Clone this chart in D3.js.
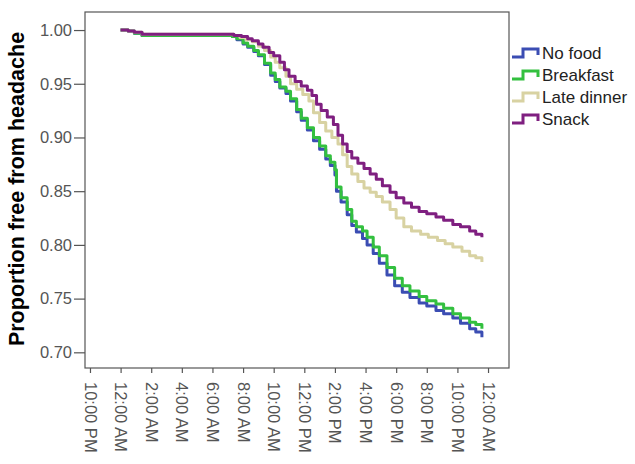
<!DOCTYPE html>
<meta charset="utf-8">
<script src="https://d3js.org/d3.v7.min.js"></script>
<style>
  body { margin: 0; background: #fff; }
  text { font-family: "Liberation Sans", Arial, sans-serif; }
</style>
<div id="my_dataviz"></div>
<script>

// survival curves: [hours after 12:00 AM, proportion free from headache]
var noFood = [[0,1.000],[0.5,0.999],[0.9,0.997],[1.4,0.995],[7.3,0.994],[7.6,0.991],[8.0,0.987],[8.3,0.984],[8.7,0.980],[9.0,0.976],[9.4,0.968],[9.8,0.958],[10.1,0.952],[10.4,0.946],[10.8,0.941],[11.1,0.934],[11.5,0.924],[11.8,0.916],[12.2,0.907],[12.6,0.897],[13.0,0.889],[13.4,0.880],[13.7,0.874],[14.0,0.865],[14.1,0.850],[14.4,0.840],[14.8,0.828],[15.1,0.818],[15.4,0.812],[15.8,0.806],[16.1,0.800],[16.5,0.792],[16.9,0.783],[17.4,0.772],[17.9,0.762],[18.4,0.756],[18.9,0.751],[19.5,0.746],[20.0,0.743],[20.6,0.739],[21.1,0.736],[21.7,0.732],[22.2,0.727],[22.8,0.722],[23.2,0.719],[23.6,0.714]];

var breakfast = [[0,1.000],[0.5,0.999],[0.9,0.997],[1.4,0.995],[7.3,0.994],[7.6,0.992],[8.0,0.988],[8.3,0.985],[8.7,0.981],[9.0,0.977],[9.4,0.969],[9.8,0.960],[10.1,0.954],[10.4,0.947],[10.8,0.943],[11.1,0.936],[11.5,0.926],[11.8,0.918],[12.2,0.909],[12.6,0.900],[13.0,0.892],[13.4,0.883],[13.7,0.877],[14.0,0.870],[14.1,0.854],[14.4,0.844],[14.8,0.833],[15.1,0.822],[15.4,0.817],[15.8,0.813],[16.1,0.807],[16.5,0.798],[16.9,0.790],[17.4,0.779],[17.9,0.769],[18.4,0.762],[18.9,0.757],[19.5,0.752],[20.0,0.748],[20.6,0.745],[21.1,0.741],[21.7,0.736],[22.2,0.732],[22.8,0.728],[23.2,0.726],[23.6,0.722]];

var lateDinner = [[0,1.000],[0.5,0.999],[0.9,0.998],[1.4,0.996],[7.4,0.995],[7.8,0.993],[8.2,0.991],[8.6,0.989],[9.0,0.985],[9.4,0.981],[9.8,0.975],[10.1,0.970],[10.4,0.965],[10.8,0.957],[11.1,0.950],[11.5,0.945],[11.9,0.940],[12.3,0.934],[12.6,0.923],[13.0,0.914],[13.4,0.906],[13.8,0.900],[14.2,0.894],[14.5,0.884],[14.8,0.873],[15.1,0.866],[15.5,0.859],[15.9,0.853],[16.3,0.849],[16.7,0.845],[17.1,0.840],[17.6,0.833],[18.0,0.825],[18.5,0.817],[19.0,0.813],[19.6,0.810],[20.1,0.807],[20.7,0.804],[21.2,0.801],[21.7,0.798],[22.3,0.794],[22.8,0.790],[23.2,0.788],[23.6,0.784]];

var snack = [[0,1.000],[0.5,0.999],[0.9,0.998],[1.4,0.996],[7.4,0.995],[7.9,0.994],[8.3,0.992],[8.6,0.990],[9.0,0.987],[9.3,0.984],[9.7,0.979],[10.0,0.976],[10.4,0.970],[10.7,0.963],[11.0,0.957],[11.4,0.952],[11.8,0.948],[12.2,0.944],[12.5,0.939],[12.8,0.931],[13.1,0.925],[13.5,0.919],[13.9,0.912],[14.2,0.902],[14.5,0.894],[14.8,0.887],[15.1,0.881],[15.5,0.876],[15.9,0.871],[16.3,0.866],[16.7,0.861],[17.1,0.855],[17.6,0.849],[18.0,0.844],[18.5,0.839],[19.0,0.835],[19.5,0.831],[20.0,0.829],[20.6,0.826],[21.1,0.823],[21.7,0.819],[22.2,0.817],[22.8,0.813],[23.2,0.810],[23.6,0.807]];

var seriesNames = ["No food", "Breakfast", "Late dinner", "Snack"];
var seriesColors = ["#3b4db3", "#33c03f", "#d8d2a2", "#7f1f80"];
var yTicks = [0.70, 0.75, 0.80, 0.85, 0.90, 0.95, 1.00];

var series = [noFood, breakfast, lateDinner, snack];

var width = 635, height = 464;
var svg = d3.select("#my_dataviz")
  .append("svg")
    .attr("width", width)
    .attr("height", height);

// plot frame
var frame = {left: 85, right: 509, top: 12, bottom: 368};

// time scale, 12:00 AM of the study day as base
var base = new Date(2020, 0, 1, 0, 0);
function toDate(h) { return new Date(base.getTime() + h * 3600000); }

var x = d3.scaleTime()
  .domain([toDate(-2.325), toDate(25.37)])
  .range([frame.left, frame.right]);

var y = d3.scaleLinear()
  .domain([0.6854, 1.0168])
  .range([frame.bottom, frame.top]);

// frame
svg.append("rect")
  .attr("x", frame.left)
  .attr("y", frame.top)
  .attr("width", frame.right - frame.left)
  .attr("height", frame.bottom - frame.top)
  .attr("fill", "none")
  .attr("stroke", "#555")
  .attr("stroke-width", 1.2);

// Y axis
var yAxis = svg.append("g")
  .attr("transform", "translate(" + frame.left + ",0)")
  .call(d3.axisLeft(y).tickValues(yTicks).tickFormat(d3.format(".2f")).tickSize(11).tickPadding(2));
yAxis.select(".domain").remove();
yAxis.selectAll("line").attr("stroke", "#555").attr("stroke-width", 1.2);
yAxis.selectAll("text")
  .attr("fill", "#555")
  .style("font-size", "16.5px");

// X axis
var xTicks = d3.timeHour.every(2).range(toDate(-2), toDate(24.01));
var xAxis = svg.append("g")
  .attr("transform", "translate(0," + frame.bottom + ")")
  .call(d3.axisBottom(x).tickValues(xTicks).tickFormat(d3.timeFormat("%-I:%M %p")).tickSize(5));
xAxis.select(".domain").remove();
xAxis.selectAll("line").attr("stroke", "#555").attr("stroke-width", 1.2);
xAxis.selectAll("text")
  .attr("fill", "#555")
  .style("font-size", "16.5px")
  .attr("y", 0)
  .attr("dy", "0.36em")
  .attr("transform", "translate(0,14)rotate(90)")
  .style("text-anchor", "start");

// Y axis title
svg.append("text")
  .attr("transform", "translate(24,189)rotate(-90)")
  .style("text-anchor", "middle")
  .style("font-weight", "bold")
  .style("font-size", "21.5px")
  .attr("fill", "#000")
  .text("Proportion free from headache");

// curves
var line = d3.line()
  .curve(d3.curveStepAfter)
  .x(function(d) { return x(toDate(d[0])); })
  .y(function(d) { return y(d[1]); });

svg.selectAll("path.curve")
  .data(series)
  .enter()
  .append("path")
    .attr("class", "curve")
    .attr("d", line)
    .attr("fill", "none")
    .attr("stroke", function(d, i) { return seriesColors[i]; })
    .attr("stroke-width", 3)
    .attr("stroke-linejoin", "round");

// legend
var legend = svg.selectAll("g.leg")
  .data(seriesNames)
  .enter()
  .append("g")
    .attr("class", "leg")
    .attr("transform", function(d, i) { return "translate(512," + (53 + i * 22) + ")"; });

legend.append("path")
  .attr("d", "M0,4 L11,4 L11,-4 L26,-4 L26,2")
  .attr("fill", "none")
  .attr("stroke", function(d, i) { return seriesColors[i]; })
  .attr("stroke-width", 3);

legend.append("text")
  .attr("x", 30)
  .attr("dy", "0.36em")
  .style("font-size", "17px")
  .attr("fill", "#222")
  .text(function(d) { return d; });

</script>
